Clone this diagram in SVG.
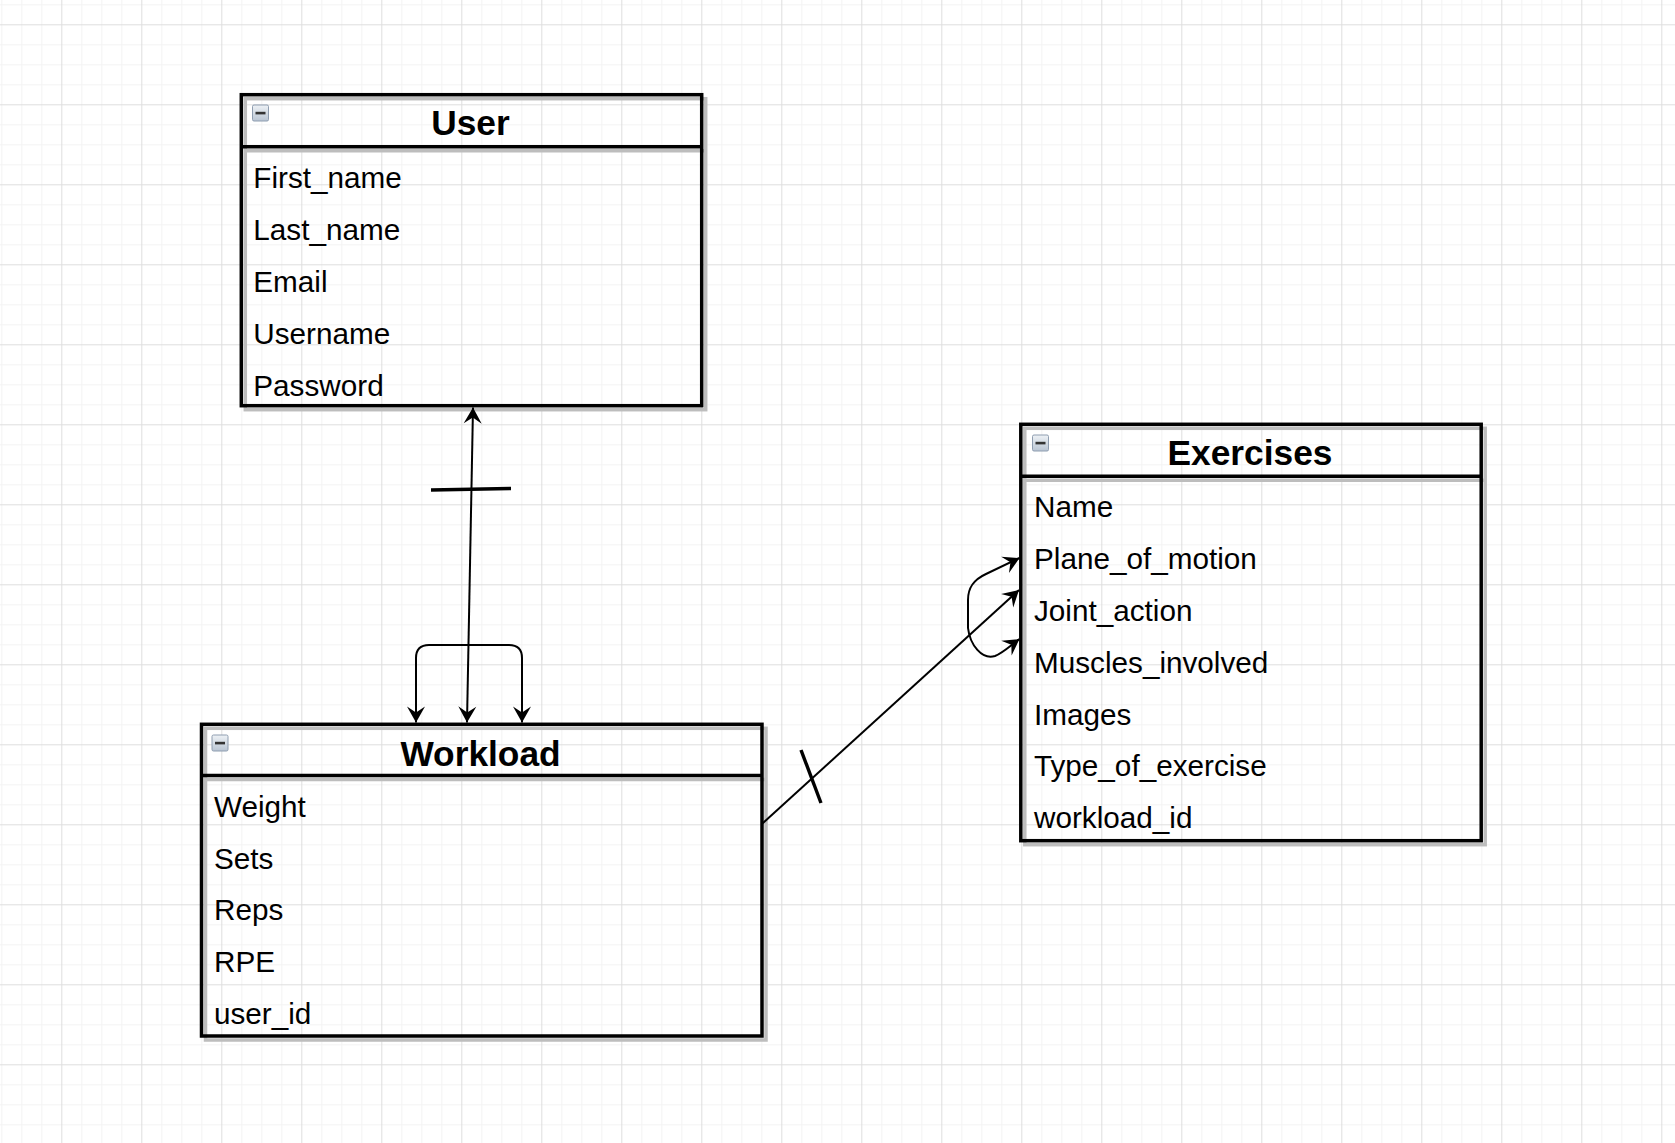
<svg xmlns="http://www.w3.org/2000/svg" width="1675" height="1143" viewBox="0 0 1675 1143">
<style>
.box{fill:none;stroke:#000;stroke-width:3.5}
.shadow{fill:none;stroke:#bdbdbd;stroke-width:3.5}
.title{font-family:"Liberation Sans",Arial,Helvetica,sans-serif;font-weight:bold;font-size:35.3px;fill:#000;text-anchor:middle}
.field{font-family:"Liberation Sans",Arial,Helvetica,sans-serif;font-size:29.7px;fill:#000}
.edge{fill:none;stroke:#000;stroke-width:2}
.tick{fill:none;stroke:#000;stroke-width:3.4}
.icon{fill:url(#iconGrad);stroke:#8e9db0;stroke-width:1}
.minus{fill:#333}
</style>
<defs>
<pattern id="grid" patternUnits="userSpaceOnUse" x="61.3" y="24.3" width="80" height="80">
<rect x="0" y="0" width="80" height="80" fill="#fff"/>
<rect x="20" y="0" width="1" height="80" fill="#f3f3f3"/>
<rect x="40" y="0" width="1" height="80" fill="#f3f3f3"/>
<rect x="60" y="0" width="1" height="80" fill="#f3f3f3"/>
<rect x="0" y="20" width="80" height="1" fill="#f3f3f3"/>
<rect x="0" y="40" width="80" height="1" fill="#f3f3f3"/>
<rect x="0" y="60" width="80" height="1" fill="#f3f3f3"/>
<rect x="0" y="0" width="1" height="80" fill="#dedede"/>
<rect x="0" y="0" width="80" height="1" fill="#dedede"/>
</pattern>
<linearGradient id="iconGrad" x1="0" y1="0" x2="0" y2="1">
<stop offset="0" stop-color="#eef2f6"/>
<stop offset="1" stop-color="#b9c5d3"/>
</linearGradient>
<marker id="arrow" markerUnits="userSpaceOnUse" markerWidth="20" markerHeight="20" viewBox="-17 -10 18 20" refX="0" refY="0" orient="auto-start-reverse">
<path d="M0,0 L-16,-9 L-10,0 L-16,9 Z" fill="#000"/>
</marker>
</defs>
<rect x="0" y="0" width="1675" height="1143" fill="url(#grid)"/>

<g id="node-user">
<rect class="shadow" x="245.3" y="98.7" width="460.4" height="311"/>
<line class="shadow" x1="245.3" y1="150.7" x2="705.7" y2="150.7"/>
<rect class="box" x="241.3" y="94.7" width="460.4" height="311"/>
<line class="box" x1="241.3" y1="146.7" x2="701.7" y2="146.7"/>
<rect class="icon" x="252.5" y="105" width="16" height="16" rx="1.5"/>
<rect class="minus" x="255.5" y="111.8" width="10" height="2.6"/>
<text class="title" x="470.5" y="135">User</text>
<text class="field" x="253.3" y="187.5">First_name</text>
<text class="field" x="253.3" y="239.5">Last_name</text>
<text class="field" x="253.3" y="291.5">Email</text>
<text class="field" x="253.3" y="343.5">Username</text>
<text class="field" x="253.3" y="395.5">Password</text>
</g>

<g id="node-workload">
<rect class="shadow" x="205.5" y="728.3" width="560.5" height="311.7"/>
<line class="shadow" x1="205.5" y1="779.6" x2="766" y2="779.6"/>
<rect class="box" x="201.5" y="724.3" width="560.5" height="311.7"/>
<line class="box" x1="201.5" y1="775.6" x2="762" y2="775.6"/>
<rect class="icon" x="212" y="735" width="16" height="16" rx="1.5"/>
<rect class="minus" x="215" y="741.8" width="10" height="2.6"/>
<text class="title" x="480.5" y="765.7">Workload</text>
<text class="field" x="214" y="816.8">Weight</text>
<text class="field" x="214" y="868.6">Sets</text>
<text class="field" x="214" y="920.4">Reps</text>
<text class="field" x="214" y="972.2">RPE</text>
<text class="field" x="214" y="1024">user_id</text>
</g>

<g id="node-exercises">
<rect class="shadow" x="1024.8" y="428.3" width="460.4" height="416.4"/>
<line class="shadow" x1="1024.8" y1="480.2" x2="1485.2" y2="480.2"/>
<rect class="box" x="1020.8" y="424.3" width="460.4" height="416.4"/>
<line class="box" x1="1020.8" y1="476.2" x2="1481.2" y2="476.2"/>
<rect class="icon" x="1032.5" y="435" width="16" height="16" rx="1.5"/>
<rect class="minus" x="1035.5" y="441.8" width="10" height="2.6"/>
<text class="title" x="1250" y="465">Exercises</text>
<text class="field" x="1034" y="517.3">Name</text>
<text class="field" x="1034" y="569.1">Plane_of_motion</text>
<text class="field" x="1034" y="620.9">Joint_action</text>
<text class="field" x="1034" y="672.7">Muscles_involved</text>
<text class="field" x="1034" y="724.5">Images</text>
<text class="field" x="1034" y="776.3">Type_of_exercise</text>
<text class="field" x="1034" y="828.1">workload_id</text>
</g>

<g id="connectors">
<path id="edge-user-workload" class="edge" d="M467,722.5 L473,407.5" marker-start="url(#arrow)" marker-end="url(#arrow)"/>
<line class="tick" x1="431" y1="490" x2="511" y2="488.5"/>
<path id="edge-workload-self" class="edge" d="M416,722.5 L416,658 Q416,645 429,645 L509,645 Q522,645 522,658 L522,722.5" marker-start="url(#arrow)" marker-end="url(#arrow)"/>
<path id="edge-workload-exercises" class="edge" d="M762.7,823.3 L1019,590" marker-end="url(#arrow)"/>
<line class="tick" x1="801" y1="750" x2="821" y2="803"/>
<path id="edge-exercises-self" class="edge" d="M1019.5,558 L986,574 C973,580 968,588 968,600 L968,628 C970,645 982,660 995,656 C1003,653 1011,645 1019.5,639" marker-start="url(#arrow)" marker-end="url(#arrow)"/>
</g>
</svg>
